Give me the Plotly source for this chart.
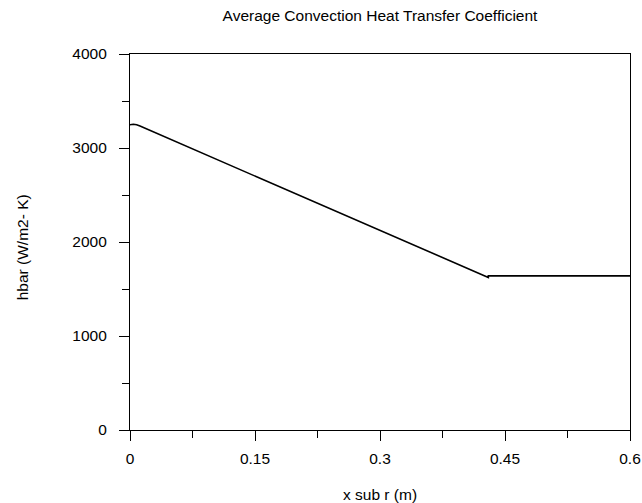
import plotly.graph_objects as go

# Average convection heat transfer coefficient along the plate
x_sub_r = [0.0, 0.004, 0.008, 0.012, 0.43, 0.43, 0.6]          # m
hbar = [3248, 3252, 3247, 3233, 1623, 1640, 1640]              # W/m2-K

x_ticks = [0, 0.15, 0.3, 0.45, 0.6]
y_ticks = [0, 1000, 2000, 3000, 4000]

FONT = "Liberation Sans, Arial, sans-serif"

fig = go.Figure(
    go.Scatter(
        x=x_sub_r,
        y=hbar,
        mode="lines",
        line=dict(color="#000000", width=1.6),
        hoverinfo="x+y",
    )
)

axis_common = dict(
    showgrid=False,
    zeroline=False,
    showline=True,
    linecolor="#000000",
    linewidth=1.3,
    mirror=True,
    ticks="outside",
    ticklen=10,
    tickwidth=1,
    tickcolor="#000000",
    automargin=False,
    tickfont=dict(family=FONT, size=15.5, color="#000000"),
)

fig.update_xaxes(
    range=[0, 0.6],
    tickvals=x_ticks,
    ticktext=[f"{v:g}" for v in x_ticks],
    ticklabelstandoff=4,
    minor=dict(ticks="outside", ticklen=7, dtick=0.075, tick0=0, tickcolor="#000000", showgrid=False),
    **axis_common,
)
fig.update_yaxes(
    range=[0, 4000],
    tickvals=y_ticks,
    ticktext=[str(v) for v in y_ticks],
    ticklabelstandoff=9,
    minor=dict(ticks="outside", ticklen=7, dtick=500, tick0=0, tickcolor="#000000", showgrid=False),
    **axis_common,
)

fig.update_layout(
    width=642,
    height=503,
    margin=dict(l=130, r=12, t=54, b=73, pad=0, autoexpand=False),
    paper_bgcolor="#ffffff",
    plot_bgcolor="#ffffff",
    showlegend=False,
    title=dict(
        text="Average Convection Heat Transfer Coefficient",
        font=dict(family=FONT, size=15.5, color="#000000"),
        x=0.5,
        xref="paper",
        xanchor="center",
        y=1 - 16 / 503,
        yref="container",
        yanchor="middle",
    ),
    annotations=[
        dict(
            text="x sub r (m)",
            xref="paper", yref="paper",
            x=0.5, y=-(494 - 429.5) / 375.5,
            xanchor="center", yanchor="middle",
            showarrow=False,
            font=dict(family=FONT, size=15.5, color="#000000"),
        ),
        dict(
            text="hbar (W/m2- K)",
            xref="paper", yref="paper",
            x=(22 - 130) / 500, y=(429.5 - 247) / 375.5,
            xanchor="center", yanchor="middle",
            textangle=-90,
            showarrow=False,
            font=dict(family=FONT, size=15.5, color="#000000"),
        ),
    ],
)

fig.write_html("out.html")
